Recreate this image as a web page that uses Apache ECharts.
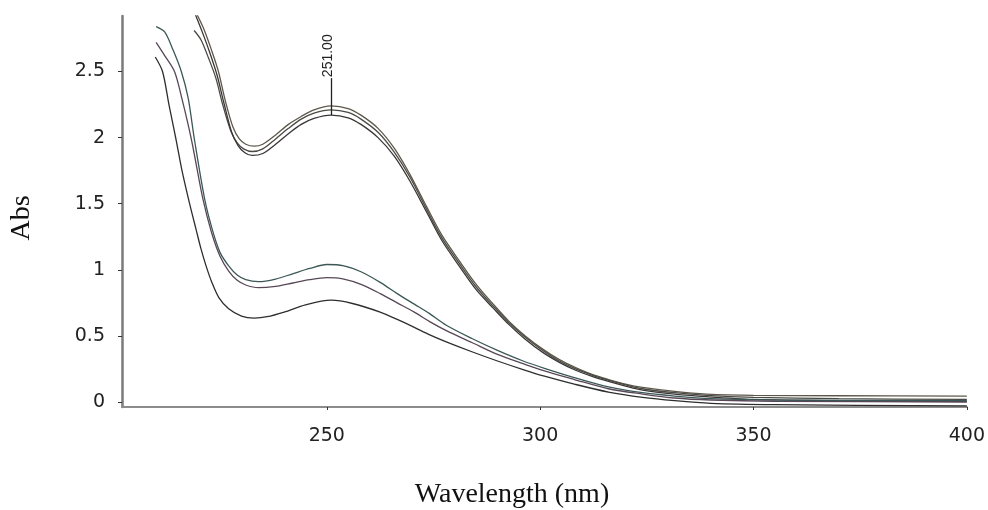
<!DOCTYPE html>
<html><head><meta charset="utf-8">
<script src="https://cdn.jsdelivr.net/npm/echarts@6/dist/echarts.min.js"></script>
<style>html,body{margin:0;padding:0;background:#fff}#c{width:988px;height:510px}</style>
</head><body><div id="c"></div>
<script>
// ---- data ----
const xTicks = [250, 300, 350, 400];
const yTicks = [0, 0.5, 1, 1.5, 2, 2.5];
const xTitle = 'Wavelength (nm)';
const yTitle = 'Abs';
const peakWl = 251;
const peakText = '251.00';

// upper group (three high-concentration spectra)
const u1Wl  = [219.6,221.2,223,224.6,226.2,228,229.5,231,233,235,238,241,244,247,251,255,258,262,265.8,269.5,273.5,277,281,285,289,292.7,296.5,300.6,304.5,308.3,312,316,320,324,331.5,339,350,370,400];
const u1Abs = [2.93,2.82,2.66,2.50,2.28,2.08,1.99,1.95,1.935,1.95,2.02,2.10,2.16,2.21,2.24,2.22,2.17,2.07,1.92,1.72,1.47,1.26,1.07,0.89,0.74,0.61,0.50,0.40,0.32,0.26,0.21,0.17,0.135,0.11,0.08,0.06,0.05,0.047,0.045];
const u2Wl  = [218.9,220.5,222.3,224,225.6,227.5,229,230.5,232.5,235,238,241,244,247,251,255,258,262,265.8,269.5,273.5,277,281,285,289,292.7,296.5,300.6,304.5,308.3,312,316,320,324,331.5,339,350,370,400];
const u2Abs = [2.81,2.74,2.60,2.45,2.25,2.05,1.96,1.915,1.895,1.915,1.99,2.07,2.14,2.185,2.21,2.19,2.14,2.04,1.89,1.70,1.45,1.24,1.05,0.87,0.725,0.60,0.49,0.39,0.31,0.25,0.205,0.165,0.13,0.10,0.07,0.05,0.035,0.025,0.02];
const u3Wl  = [219.2,220.8,222.6,224.3,225.9,227.7,229.2,230.8,232.5,235,238,241,244,247,251,255,258,262,265.8,269.5,273.5,277,281,285,289,292.7,296.5,300.6,304.5,308.3,312,316,320,324,331.5,339,350,370,400];
const u3Abs = [2.93,2.80,2.64,2.47,2.26,2.04,1.94,1.885,1.865,1.88,1.95,2.03,2.10,2.145,2.17,2.15,2.10,2.00,1.86,1.67,1.43,1.22,1.03,0.85,0.71,0.585,0.475,0.375,0.30,0.24,0.195,0.155,0.12,0.09,0.06,0.04,0.02,0.01,0.005];

// lower group (three low-concentration spectra)
const l1Wl  = [210,212,214,215.9,217.5,219,221.4,223.2,225,227,229,231,234,238,242,246,250,254,258,262.5,266.5,270.5,274,278,284,290,296,301,308,316,324,331.5,340,355,400];
const l1Abs = [2.84,2.80,2.66,2.50,2.30,1.98,1.53,1.30,1.13,1.03,0.96,0.925,0.91,0.93,0.97,1.01,1.04,1.03,0.985,0.905,0.82,0.74,0.67,0.58,0.48,0.39,0.31,0.255,0.185,0.115,0.07,0.045,0.025,0.015,0.01];
const l2Wl  = [210,212,214.3,216,218.3,221,223,225,227,229,231,234,238,242,246,250,254,258,262.5,266.5,270.5,274,278,284,290,296,301,308,316,324,331.5,340,355,400];
const l2Abs = [2.72,2.62,2.50,2.30,1.98,1.53,1.28,1.10,0.99,0.92,0.885,0.865,0.875,0.90,0.925,0.94,0.93,0.89,0.82,0.75,0.68,0.61,0.54,0.45,0.36,0.29,0.235,0.17,0.10,0.06,0.03,0.015,0.005,0.0];
const l3Wl  = [209.8,211.5,213,214.7,216,217.7,219.4,220.5,221.7,223,224.7,227,230,233,236,240,245,251,256,262.5,266.5,270.5,274,278,284,290,296,301,308,316,324,331.5,340,355,400];
const l3Abs = [2.61,2.50,2.25,1.98,1.76,1.52,1.30,1.16,1.03,0.91,0.79,0.705,0.65,0.635,0.645,0.68,0.735,0.77,0.745,0.68,0.625,0.565,0.51,0.455,0.38,0.31,0.245,0.195,0.135,0.075,0.035,0.01,-0.01,-0.02,-0.03];

const spectra = [
  {name:'U1', wl:u1Wl, abs:u1Abs, color:'#5e584a'},
  {name:'U2', wl:u2Wl, abs:u2Abs, color:'#4a4a44'},
  {name:'U3', wl:u3Wl, abs:u3Abs, color:'#3a3636'},
  {name:'L1', wl:l1Wl, abs:l1Abs, color:'#3b5856'},
  {name:'L2', wl:l2Wl, abs:l2Abs, color:'#574757'},
  {name:'L3', wl:l3Wl, abs:l3Abs, color:'#2e2e2e'}
];

const chart = echarts.init(document.getElementById('c'), null, {renderer:'canvas'});
const seriesList = spectra.map(s => ({
  name: s.name,
  type: 'line',
  data: s.wl.map((w, i) => [w, s.abs[i]]),
  showSymbol: false,
  smooth: 0.3,
  lineStyle: {color: s.color, width: 1.3},
  itemStyle: {color: s.color},
  clip: true,
  silent: true
}));
// peak marker line on the lowest upper spectrum
seriesList[2].markLine = {
  silent: true, symbol: 'none', label: {show: false},
  lineStyle: {color: '#222', width: 1.3, type: 'solid'},
  data: [[{coord: [peakWl, 2.17]}, {coord: [peakWl, 2.45]}]]
};

chart.setOption({
  animation: false,
  backgroundColor: '#fff',
  grid: {left: 122, right: 13, top: 16, bottom: 103},
  xAxis: {
    type: 'value', min: 202, max: 400,
    axisLine: {onZero: false, lineStyle: {color: '#8c8c8c', width: 2}},
    axisTick: {show: true, customValues: xTicks, length: 3, lineStyle: {color: '#333'}},
    axisLabel: {customValues: xTicks, fontSize: 19, fontFamily: 'DejaVu Sans', color: '#222', margin: 20},
    splitLine: {show: false}
  },
  yAxis: {
    type: 'value', min: -0.038, max: 2.92,
    axisLine: {show: true, onZero: false, lineStyle: {color: '#7a7a7a', width: 2.5}},
    axisTick: {show: true, customValues: yTicks, length: 4, lineStyle: {color: '#333'}},
    axisLabel: {customValues: yTicks, fontSize: 19, fontFamily: 'DejaVu Sans', color: '#222', margin: 17},
    splitLine: {show: false}
  },
  series: seriesList
});

const peakTop = chart.convertToPixel({gridIndex: 0}, [peakWl, 2.45]);
chart.setOption({
  graphic: [
    {type: 'text', x: 512, y: 495, style: {text: xTitle, font: '28px "Liberation Serif", "Times New Roman", serif', fill: '#111', align: 'center', verticalAlign: 'middle'}},
    {type: 'text', x: 22, y: 218, rotation: Math.PI / 2, style: {text: yTitle, font: '28px "Liberation Serif", "Times New Roman", serif', fill: '#111', align: 'center', verticalAlign: 'middle'}},
    {type: 'text', x: peakTop[0] - 3, y: peakTop[1] - 1, rotation: Math.PI / 2, style: {text: peakText, font: '14px "Liberation Sans", Arial, sans-serif', fill: '#222', align: 'left', verticalAlign: 'middle'}}
  ]
});
</script>
</body></html>
